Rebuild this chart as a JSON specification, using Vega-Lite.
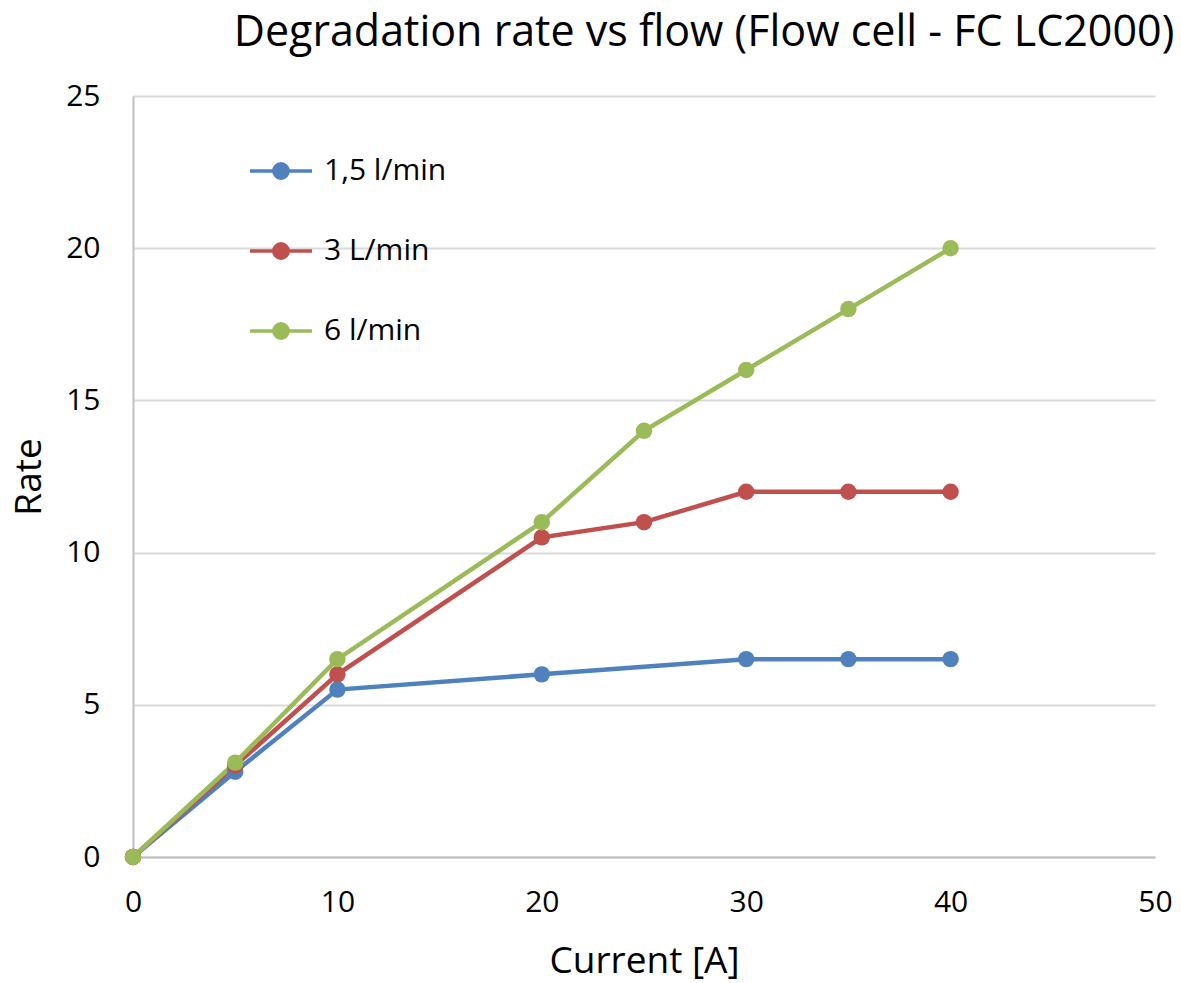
{
  "$schema": "https://vega.github.io/schema/vega-lite/v6.json",
  "width": 1022,
  "height": 761,
  "autosize": {"type": "none"},
  "padding": {"left": 133, "top": 96, "right": 26, "bottom": 126},
  "background": "white",
  "title": {
    "text": "Degradation rate vs flow (Flow cell - FC LC2000)",
    "font": "Open Sans",
    "fontSize": 43,
    "fontWeight": "normal",
    "color": "#000000",
    "anchor": "middle",
    "dx": 60,
    "offset": 26
  },
  "data": {
    "values": [
      {"current": 0, "rate": 0, "flow": "1,5 l/min"},
      {"current": 5, "rate": 2.8, "flow": "1,5 l/min"},
      {"current": 10, "rate": 5.5, "flow": "1,5 l/min"},
      {"current": 20, "rate": 6, "flow": "1,5 l/min"},
      {"current": 30, "rate": 6.5, "flow": "1,5 l/min"},
      {"current": 35, "rate": 6.5, "flow": "1,5 l/min"},
      {"current": 40, "rate": 6.5, "flow": "1,5 l/min"},
      {"current": 0, "rate": 0, "flow": "3 L/min"},
      {"current": 5, "rate": 3, "flow": "3 L/min"},
      {"current": 10, "rate": 6, "flow": "3 L/min"},
      {"current": 20, "rate": 10.5, "flow": "3 L/min"},
      {"current": 25, "rate": 11, "flow": "3 L/min"},
      {"current": 30, "rate": 12, "flow": "3 L/min"},
      {"current": 35, "rate": 12, "flow": "3 L/min"},
      {"current": 40, "rate": 12, "flow": "3 L/min"},
      {"current": 0, "rate": 0, "flow": "6 l/min"},
      {"current": 5, "rate": 3.1, "flow": "6 l/min"},
      {"current": 10, "rate": 6.5, "flow": "6 l/min"},
      {"current": 20, "rate": 11, "flow": "6 l/min"},
      {"current": 25, "rate": 14, "flow": "6 l/min"},
      {"current": 30, "rate": 16, "flow": "6 l/min"},
      {"current": 35, "rate": 18, "flow": "6 l/min"},
      {"current": 40, "rate": 20, "flow": "6 l/min"}
    ]
  },
  "encoding": {
    "x": {
      "field": "current",
      "type": "quantitative",
      "scale": {"domain": [0, 50], "nice": false, "zero": true},
      "axis": {
        "title": "Current [A]",
        "values": [0, 10, 20, 30, 40, 50],
        "grid": false,
        "ticks": false,
        "domainColor": "#bfbfbf",
        "domainWidth": 2,
        "labelFont": "Open Sans",
        "labelFontSize": 30,
        "labelColor": "#000000",
        "labelPadding": 30,
        "labelFlush": false,
        "titleFont": "Open Sans",
        "titleFontSize": 37,
        "titleFontWeight": "normal",
        "titleColor": "#000000",
        "titlePadding": 26
      }
    },
    "y": {
      "field": "rate",
      "type": "quantitative",
      "scale": {"domain": [0, 25], "nice": false},
      "axis": {
        "title": "Rate",
        "values": [0, 5, 10, 15, 20, 25],
        "grid": true,
        "gridColor": "#d9d9d9",
        "gridWidth": 2,
        "ticks": false,
        "domainColor": "#bfbfbf",
        "domainWidth": 2,
        "labelFont": "Open Sans",
        "labelFontSize": 30,
        "labelColor": "#000000",
        "labelPadding": 33,
        "labelFlush": false,
        "titleFont": "Open Sans",
        "titleFontSize": 37,
        "titleFontWeight": "normal",
        "titleColor": "#000000",
        "titlePadding": 17
      }
    },
    "color": {
      "field": "flow",
      "type": "nominal",
      "scale": {
        "domain": ["1,5 l/min", "3 L/min", "6 l/min"],
        "range": ["#4f81bd", "#c0504d", "#9bbb59"]
      },
      "legend": {
        "title": null,
        "orient": "none",
        "legendX": 115,
        "legendY": 42,
        "padding": 0,
        "symbolType": "M-1,0H1M-0.23,0A0.23,0.23 0 1,1 0.23,0A0.23,0.23 0 1,1 -0.23,0Z",
        "symbolSize": 3844,
        "symbolStrokeWidth": 3.5,
        "labelFont": "Open Sans",
        "labelFontSize": 30,
        "labelColor": "#000000",
        "labelOffset": 10,
        "rowPadding": 32,
        "labelLimit": 400,
        "encode": {
          "symbols": {
            "update": {
              "fill": {"scale": "color", "field": "value"},
              "stroke": {"scale": "color", "field": "value"},
              "fillOpacity": {"value": 1},
              "strokeOpacity": {"value": 1}
            }
          }
        }
      }
    }
  },
  "layer": [
    {"mark": {"type": "line", "strokeWidth": 4.5}},
    {"mark": {"type": "point", "filled": true, "size": 270, "opacity": 1}}
  ],
  "config": {"view": {"stroke": null}}
}
